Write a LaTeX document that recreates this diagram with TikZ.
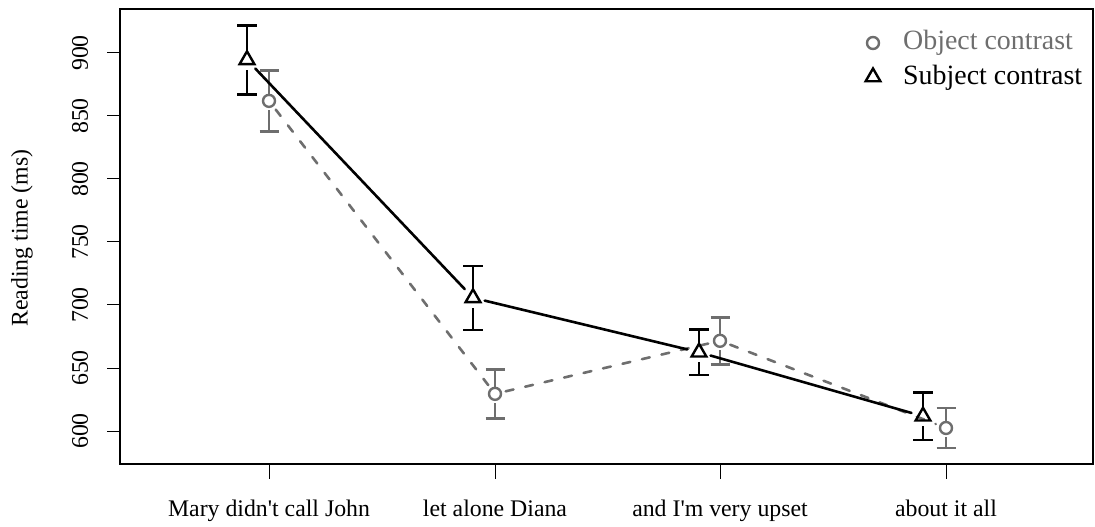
\documentclass[tikz,border=0pt]{standalone}
\usepackage{fontspec}
\setmainfont{Liberation Serif}
\usetikzlibrary{shapes.geometric}
\definecolor{objgray}{RGB}{110,110,110}
\tikzset{
  frame/.style={line width=2.3pt},
  tickline/.style={line width=1pt},
  lbl/.style={font=\fontsize{23.8}{28}\selectfont, inner sep=0pt},
  leglbl/.style={font=\fontsize{27.9}{32}\selectfont, inner sep=0pt},
  subj/.style={regular polygon, regular polygon sides=3, draw=black, line width=2.4pt, minimum size=17pt, inner sep=0pt},
  obj/.style={circle, draw=objgray, line width=2.4pt, minimum size=12pt, inner sep=0pt},
  subjline/.style={line width=2.6pt, black, line cap=round, shorten <=12pt, shorten >=12pt},
  objline/.style={line width=2.6pt, objgray, line cap=round, dash pattern=on 8pt off 12pt, shorten <=11pt, shorten >=11pt},
  subjbar/.style={line width=2.6pt, black},
  objbar/.style={line width=2.6pt, objgray},
}
\begin{document}
\begin{tikzpicture}[x=1pt,y=1pt]
\useasboundingbox (0,0) rectangle (1095,527);
% frame
\draw[frame] (120,63) rectangle (1093,518);
% y axis
\begin{scope}[y=1.26pt, yshift=-660pt]
\foreach \v in {600,650,...,900}{
  \draw[tickline] (107,\v) -- (120,\v);
  \node[lbl, rotate=90] (yl\v) at (80,\v) {\v};
}
\end{scope}
\node[lbl, rotate=90] (ytitle) at (22,289) {Reading time (ms)};
% x axis
\foreach \x/\t [count=\i] in {269/{Mary didn\textquotesingle t call John},495/{let alone Diana},720/{and I\textquotesingle m very upset},946/{about it all}}{
  \draw[tickline] (\x,63) -- (\x,48);
  \node[lbl, anchor=base] (xl\i) at (\x,10) {\t};
}
\begin{scope}[y=1.26pt, yshift=-660pt]
% data coordinates
\coordinate (s1) at (247,894.6); \coordinate (s2) at (473,705.7);
\coordinate (s3) at (699,662.5); \coordinate (s4) at (923,611.7);
\coordinate (o1) at (269,862.0); \coordinate (o2) at (495,629.5);
\coordinate (o3) at (720,671.6); \coordinate (o4) at (946,602.4);
% error bars subject
\foreach \x/\m/\e [count=\i] in {247/894.6/27.4, 473/705.7/25.4, 699/662.5/17.9, 923/611.7/18.7}{
  \coordinate (sa\i) at (\x,\m+\e); \coordinate (sb\i) at (\x,\m-\e);
  \draw[subjbar] (sa\i) -- ([yshift=7pt]s\i);
  \draw[subjbar] (sb\i) -- ([yshift=-10pt]s\i);
  \draw[subjbar] ([xshift=-10pt]sa\i) -- ([xshift=10pt]sa\i);
  \draw[subjbar] ([xshift=-10pt]sb\i) -- ([xshift=10pt]sb\i);
}
\foreach \x/\m/\e [count=\i] in {269/862.0/24.2, 495/629.5/19.4, 720/671.6/18.7, 946/602.4/15.9}{
  \coordinate (oa\i) at (\x,\m+\e); \coordinate (ob\i) at (\x,\m-\e);
  \draw[objbar] (oa\i) -- ([yshift=6pt]o\i);
  \draw[objbar] (ob\i) -- ([yshift=-9pt]o\i);
  \draw[objbar] ([xshift=-9.5pt]oa\i) -- ([xshift=9.5pt]oa\i);
  \draw[objbar] ([xshift=-9.5pt]ob\i) -- ([xshift=9.5pt]ob\i);
}
% lines
\draw[objline] (o1) -- (o2);
\draw[objline] (o2) -- (o3);
\draw[objline] (o3) -- (o4);
\draw[subjline] (s1) -- (s2);
\draw[subjline] (s2) -- (s3);
\draw[subjline] (s3) -- (s4);
% markers
\foreach \i in {1,2,3,4}{
  \node[obj] (om\i) at (o\i) {};
  \node[subj] (sm\i) at (s\i) {};
}
\end{scope}
% legend
\node[obj] (legobj) at (873,484) {};
\node[subj] (legsubj) at (873,450) {};
\node[leglbl, anchor=west, text=objgray] (legobjt) at (903,484) {Object contrast};
\node[leglbl, anchor=west] (legsubjt) at (903,449) {Subject contrast};
\end{tikzpicture}
\end{document}
